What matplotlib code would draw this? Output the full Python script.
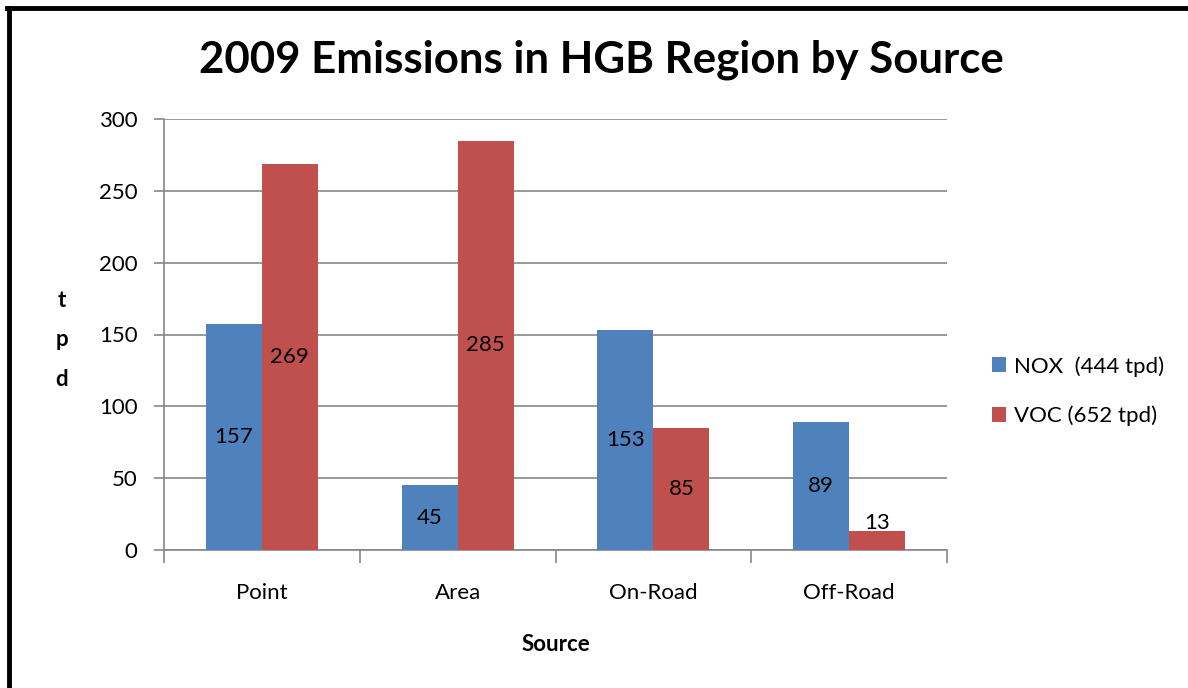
import matplotlib.pyplot as plt
from matplotlib.lines import Line2D
import numpy as np

plt.rcParams['font.family'] = ['Lato', 'DejaVu Sans']

sources = ['Point', 'Area', 'On-Road', 'Off-Road']
nox = [157, 45, 153, 89]
voc = [269, 285, 85, 13]
labels = ['NOX  (444 tpd)', 'VOC (652 tpd)']

blue = '#4F81BD'
red = '#C0504D'
grid = '#888888'

fig = plt.figure(figsize=(11.88, 6.88), dpi=100)
ax = fig.add_axes([164/1188, 1 - 550/688, (947 - 164)/1188, (550 - 119)/688])

x = np.arange(len(sources))
w = 0.2857
b1 = ax.bar(x - w/2, nox, w, color=blue, label=labels[0], zorder=3)
b2 = ax.bar(x + w/2, voc, w, color=red, label=labels[1], zorder=3)

# data labels centred in bars (pushed up when bar is too short)
for bars, vals in [(b1, nox), (b2, voc)]:
    for r, v in zip(bars, vals):
        ax.text(r.get_x() + r.get_width()/2, max(v/2, 19), str(v),
                ha='center', va='center', fontsize=16, color='black', zorder=4)

ax.set_xlim(-0.5, 3.5)
ax.set_ylim(0, 300)
ax.set_yticks(range(0, 301, 50))
ax.yaxis.grid(True, color=grid, linewidth=1.2, zorder=0)
ax.set_xticks(x)
ax.set_xticklabels(sources, fontsize=16)
ax.tick_params(axis='x', length=0, pad=24)
ax.tick_params(axis='y', labelsize=16, length=7, color=grid, width=1.2, pad=12)
ax.set_xticks(np.arange(-0.5, 4, 1), minor=True)
ax.tick_params(axis='x', which='minor', length=9, color=grid, width=1.2)

for s in ['top', 'right']:
    ax.spines[s].set_visible(False)
for s in ['left', 'bottom']:
    ax.spines[s].set_color(grid)
    ax.spines[s].set_linewidth(1.2)

ax.set_xlabel('Source', fontsize=16, fontweight='bold', labelpad=22)
fig.text(62/1188, 1 - 340/688, 't\np\nd', fontsize=16, fontweight='bold',
         ha='center', va='center', linespacing=2.1)

fig.text(601/1188, 1 - 60/688, '2009 Emissions in HGB Region by Source',
         fontsize=31.5, fontweight='bold', ha='center', va='center')

ax.legend(loc='center left', bbox_to_anchor=(972/1188, 1 - 391/688),
          bbox_transform=fig.transFigure, frameon=False, fontsize=16,
          handlelength=0.65, handleheight=0.65, handletextpad=0.35,
          labelspacing=1.3)

# frame on the top and left
fig.add_artist(Line2D([8.5/1188, 8.5/1188], [0, 1 - 7.5/688], color='black', lw=3.5,
                      transform=fig.transFigure))
fig.add_artist(Line2D([7/1188, 1], [1 - 7.5/688, 1 - 7.5/688], color='black', lw=3.5,
                      transform=fig.transFigure))

fig.savefig('out.png', dpi=100)
